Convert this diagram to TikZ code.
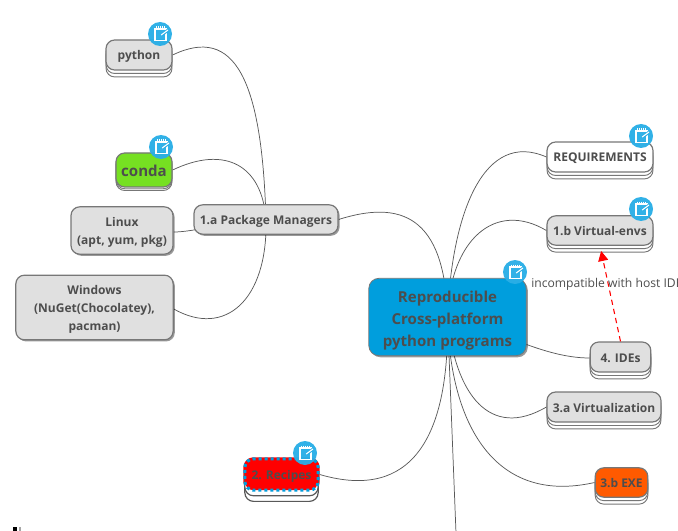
\documentclass[tikz,border=0pt]{standalone}
\usepackage{fontspec}
\setmainfont{Open Sans}
\usetikzlibrary{shadows,arrows.meta,calc}
\definecolor{ink}{HTML}{4D4D4D}
\definecolor{edge}{HTML}{777777}
\definecolor{soft}{HTML}{E0E0E0}
\definecolor{mainblue}{HTML}{009EDD}
\definecolor{iconblue}{HTML}{2AAEE6}
\definecolor{condagreen}{HTML}{76E022}
\definecolor{exeorange}{HTML}{FF5A00}
\pgfdeclarelayer{links}
\pgfsetlayers{links,main}
\newcommand{\firstline}[1]{\rule{0pt}{#1}}
\tikzset{
  basebox/.style={draw=edge,line width=0.9pt,fill=soft,rounded corners=6.5pt,inner sep=0pt,align=center,
    text=ink,font=\fontsize{9}{13.5}\selectfont\bfseries},
  topicbox/.style={basebox,drop shadow={shadow xshift=1.2pt,shadow yshift=-1.2pt,fill=black,opacity=0.4}},
  stackbox/.style={basebox,double copy shadow={shadow xshift=0pt,shadow yshift=-2.6pt,fill=white,draw=edge,line width=0.7pt}},
  link/.style={draw=black!65,line width=0.55pt},
  noteicon/.pic={
    \fill[iconblue,opacity=0.97] (0,0) circle (12);
    \draw[white,line width=0.8pt] (-5,-5) rectangle (6,6.5);
    \foreach \k in {-4,-2,0,2,4}{\draw[white,line width=0.6pt] (\k,-7.5) -- (\k,-4.8);}
    \fill[iconblue] (1.5,-0.5) -- (7,-5) -- (9,-3) -- (3,2) -- cycle;
    \draw[white,line width=0.8pt] (1.2,1) -- (8,-4);
  }
}
\begin{document}
\begin{tikzpicture}[x=0.75pt,y=-0.75pt]
\useasboundingbox (0,0) rectangle (678,531);
\clip (0,0) rectangle (678,531);
% nodes
\node[stackbox,minimum width=49.5pt,minimum height=22.5pt] (python) at (139,55) {\firstline{9pt}python};
\node[basebox,fill=condagreen,font=\fontsize{11.3}{14}\selectfont\bfseries,minimum width=42pt,minimum height=25.5pt,
  double copy shadow={shadow xshift=0pt,shadow yshift=-1.3pt,fill=white,draw=edge,line width=0.7pt}] (conda) at (144,170) {\firstline{10.5pt}conda};
\node[topicbox,minimum width=76.5pt,minimum height=35.5pt] (linux) at (122,230.5) {\firstline{10pt}Linux\\(apt, yum, pkg)};
\node[topicbox,minimum width=118pt,minimum height=48.5pt] (windows) at (94.5,307.5) {\firstline{10pt}Windows\\(NuGet(Chocolatey),\\pacman)};
\node[topicbox,minimum width=108pt,minimum height=22pt] (pkg) at (266,219.5) {\firstline{9pt}1.a Package Managers};
\node[topicbox,fill=mainblue,line width=0.6pt,rounded corners=7.5pt,font=\fontsize{11.3}{16.5}\selectfont\bfseries,minimum width=118pt,minimum height=58pt] (root) at (447.5,317) {\firstline{14.6pt}Reproducible\\Cross-platform\\python programs};
\node[stackbox,fill=white,minimum width=79.5pt,minimum height=22.5pt] (req) at (600,157) {\firstline{8pt}REQUIREMENTS};
\node[stackbox,minimum width=79.5pt,minimum height=22pt] (venv) at (600,230.5) {\firstline{7pt}1.b Virtual-envs};
\node[stackbox,minimum width=45.5pt,minimum height=22.5pt] (ides) at (620.5,357) {\firstline{8pt}4. IDEs};
\node[stackbox,minimum width=85.5pt,minimum height=22.5pt] (virt) at (604,407) {\firstline{8pt}3.a Virtualization};
\node[stackbox,fill=exeorange,minimum width=39.5pt,minimum height=22pt] (exe) at (621.5,482.5) {\firstline{7pt}3.b EXE};
\node[basebox,fill=red,draw=mainblue,line width=2.3pt,dash pattern=on 2.25pt off 2.25pt,minimum width=55pt,minimum height=23.5pt,
  preaction={draw=red,solid,line width=2.3pt},
  double copy shadow={shadow xshift=0pt,shadow yshift=-4.2pt,fill=white,draw=black!65,line width=0.9pt,solid}] (recipes) at (281.5,474.5) {\firstline{9pt}2. Recipes};
\coordinate (offpage) at (456,533);
% connectors, behind the nodes
\begin{pgfonlayer}{links}
\draw[link] (pkg.center) .. controls (262,80) and (235,25) .. (python.east);
\draw[link] (pkg.center) .. controls (262,165) and (225,145) .. (conda.east);
\draw[link] (pkg.center) .. controls (225,222) and (195,232) .. (linux.east |- 0,232);
\draw[link] (pkg.center) .. controls (268,300) and (225,338) .. (windows.east |- 0,309);
\draw[link] (root.center) .. controls (445,215) and (400,200) .. (pkg.east);
\draw[link] (root.center) .. controls (452,210) and (485,130) .. (req.west);
\draw[link] (root.center) .. controls (450,240) and (495,200) .. (venv.west);
\draw[link] (root.center) .. controls (490,325) and (540,358) .. (ides.west |- 0,358);
\draw[link] (root.center) .. controls (455,395) and (490,440) .. (virt.west);
\draw[link] (root.center) .. controls (450,425) and (495,505) .. (exe.west);
\draw[link] (root.center) .. controls (450,455) and (400,498) .. (recipes.east);
\draw[link] (root.center) -- (offpage);
\end{pgfonlayer}
% dependency
\draw[red,line width=0.8pt,dashed,dash pattern=on 4pt off 3pt,shorten >=4pt,-{Triangle[width=7.5pt,length=7.5pt,fill=red]}] (ides.north) -- (venv.south);
\node[anchor=west,inner sep=0pt,text=ink,font=\fontsize{9.1}{12}\selectfont] (deplabel) at (531,284.5) {incompatible with host IDE};
% note icons
\pic at (160,34) {noteicon};
\pic at (161,147) {noteicon};
\pic at (641,136) {noteicon};
\pic at (641,209) {noteicon};
\pic at (515,272) {noteicon};
\pic at (305,453) {noteicon};
% cut-off mark at the bottom edge
\fill[black] (13,527) rectangle (17,531);
\fill[black!35] (19,527) rectangle (21,531);
\end{tikzpicture}
\end{document}
